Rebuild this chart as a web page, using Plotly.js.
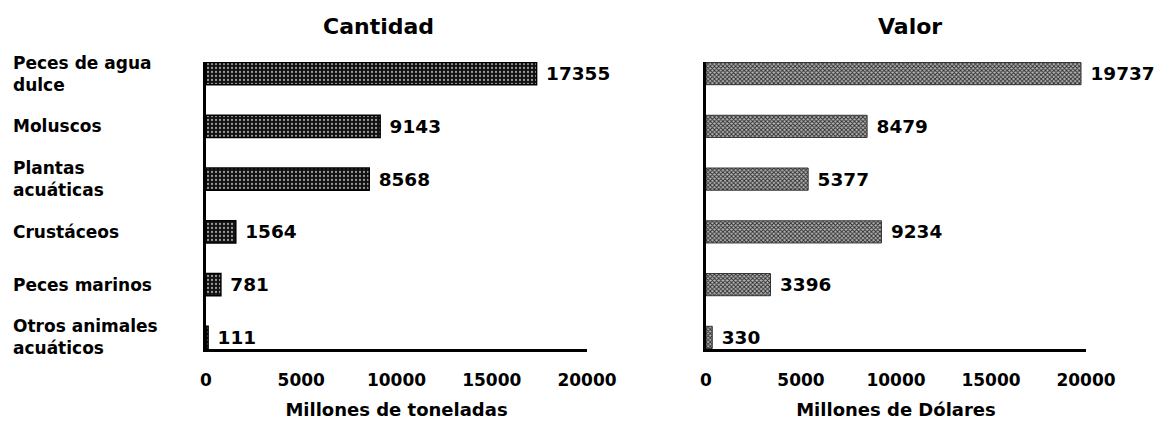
<!DOCTYPE html>
<html>
<head>
<meta charset="utf-8">
<script src="https://cdn.plot.ly/plotly-3.0.1.min.js"></script>
<style>html,body{margin:0;padding:0;background:#fff}#chart{width:1173px;height:424px}</style>
</head>
<body>
<div id="chart"></div>
<script>
const categories = ["Peces de agua dulce", "Moluscos", "Plantas acuáticas", "Crustáceos", "Peces marinos", "Otros animales acuáticos"];
const categoryLabels = ["Peces de agua<br>dulce", "Moluscos", "Plantas<br>acuáticas", "Crustáceos", "Peces marinos", "Otros animales<br>acuáticos"];
const cantidad = [17355, 9143, 8568, 1564, 781, 111];
const valor = [19737, 8479, 5377, 9234, 3396, 330];
const xTicks = [0, 5000, 10000, 15000, 20000];
const titleLeft = "Cantidad";
const titleRight = "Valor";
const xTitleLeft = "Millones de toneladas";
const xTitleRight = "Millones de Dólares";

const FAM = "DejaVu Sans";
const boldFont = (s) => ({family: FAM, size: s, color: "#000", weight: "bold"});

const traces = [
  {
    type: "bar", orientation: "h", y: categories, x: cantidad,
    xaxis: "x", yaxis: "y", width: 0.42,
    text: cantidad.map(v => "\u00a0" + v), textposition: "outside", cliponaxis: false,
    textfont: boldFont(20),
    marker: {color: "#111", line: {color: "#000", width: 1.5},
      pattern: {shape: ".", fgcolor: "#9a9a9a", bgcolor: "#111", size: 4, solidity: 0.25}},
    hoverinfo: "skip"
  },
  {
    type: "bar", orientation: "h", y: categories, x: valor,
    xaxis: "x2", yaxis: "y2", width: 0.42,
    text: valor.map(v => "\u00a0" + v), textposition: "outside", cliponaxis: false,
    textfont: boldFont(20),
    marker: {color: "#444", line: {color: "#333", width: 1},
      pattern: {shape: "x", fgcolor: "#2a2a2a", bgcolor: "#b5b5b5", size: 3, solidity: 0.5}},
    hoverinfo: "skip"
  }
];

const xaxisBase = {
  range: [0, 20000], tickvals: xTicks, ticktext: xTicks.map(String),
  showgrid: false, zeroline: false, showline: true, linecolor: "#000", linewidth: 3,
  ticks: "", ticklabelstandoff: 14, tickfont: boldFont(17), fixedrange: true
};
const yaxisBase = {
  type: "category", categoryorder: "array", categoryarray: categories,
  range: [5.22, -0.22], showgrid: false, zeroline: false, showline: true,
  linecolor: "#000", linewidth: 3, showticklabels: false, ticks: "", fixedrange: true
};

const W = 880;
const annotations = [
  {text: titleLeft, xref: "paper", yref: "paper", x: 172/W, y: 1, yshift: 36, showarrow: false, font: boldFont(22), xanchor: "center", yanchor: "middle"},
  {text: titleRight, xref: "paper", yref: "paper", x: 704/W, y: 1, yshift: 36, showarrow: false, font: boldFont(22), xanchor: "center", yanchor: "middle"}
];
categoryLabels.forEach((lab, i) => {
  annotations.push({text: lab, xref: "paper", yref: "y", x: -195/W, y: categories[i],
    showarrow: false, xanchor: "left", yanchor: "middle", align: "left", font: boldFont(17)});
});

const layout = {
  width: 1173, height: 424,
  margin: {l: 206, r: 87, t: 62, b: 75},
  paper_bgcolor: "#fff", plot_bgcolor: "#fff",
  showlegend: false,
  xaxis: Object.assign({}, xaxisBase, {domain: [0, 381/W], anchor: "y",
    title: {text: xTitleLeft, font: boldFont(18), standoff: 14}}),
  yaxis: Object.assign({}, yaxisBase, {domain: [0, 1], anchor: "x"}),
  xaxis2: Object.assign({}, xaxisBase, {domain: [500/W, 1], anchor: "y2",
    title: {text: xTitleRight, font: boldFont(18), standoff: 14}}),
  yaxis2: Object.assign({}, yaxisBase, {domain: [0, 1], anchor: "x2"}),
  annotations: annotations
};

Plotly.newPlot("chart", traces, layout, {staticPlot: true, displayModeBar: false});
</script>
</body>
</html>
